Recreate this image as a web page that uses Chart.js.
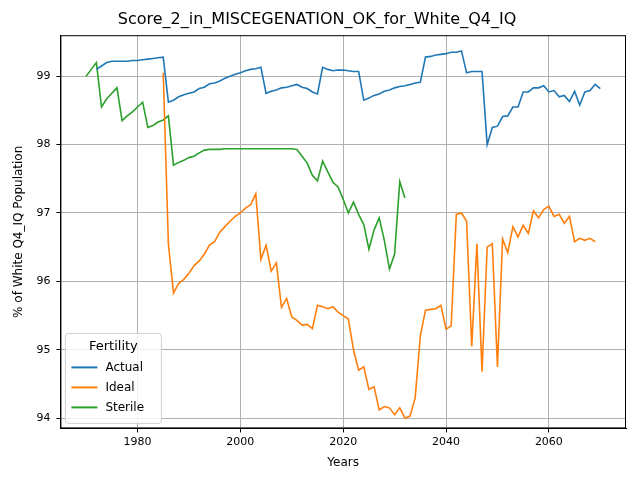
<!DOCTYPE html>
<html><head><meta charset="utf-8">
<script src="https://cdn.jsdelivr.net/npm/chart.js@4"></script>
<style>html,body{margin:0;background:#fff}#c{width:640px;height:480px}</style>
</head><body><div id="c"><canvas id="chart" width="640" height="480"></canvas></div>
<script>
var actualStart = 1972;
var actual = [99.1,99.15,99.2,99.22,99.22,99.22,99.22,99.23,99.23,99.24,99.25,99.26,99.27,99.28,
  98.62,98.65,98.7,98.73,98.75,98.77,98.82,98.84,98.89,98.9,98.93,98.97,99.0,99.03,99.05,99.08,99.1,99.11,99.13,
  98.75,98.78,98.8,98.83,98.84,98.86,98.88,98.84,98.82,98.77,98.74,
  99.13,99.1,99.08,99.09,99.09,99.08,99.07,99.07,
  98.65,98.68,98.72,98.74,98.78,98.8,98.83,98.85,98.86,98.88,98.9,98.91,
  99.28,99.29,99.31,99.32,99.33,99.35,99.35,99.37,
  99.05,99.07,99.07,99.07,
  98.0,98.25,98.27,98.41,98.42,98.55,98.55,98.77,98.77,98.83,98.83,98.86,98.77,98.79,98.7,98.72,98.63,98.78,98.58,98.77,98.79,98.88,98.82];
var idealStart = 1985;
var ideal = [99.05,96.55,95.83,95.97,96.03,96.12,96.23,96.3,96.4,96.53,96.58,96.72,96.8,96.88,96.95,97.0,97.07,97.12,97.28,
  96.32,96.53,96.15,96.27,95.62,95.75,95.48,95.43,95.36,95.37,95.31,95.65,95.63,95.6,95.63,95.55,95.5,95.45,
  95.0,94.7,94.75,94.42,94.46,94.12,94.17,94.15,94.05,94.15,94.0,94.03,94.3,95.2,95.58,95.59,95.6,95.65,95.3,95.35,
  96.98,97.0,96.88,95.05,96.55,94.68,96.5,96.55,94.75,96.62,96.42,96.8,96.65,96.82,96.7,97.03,96.93,97.05,97.1,
  96.95,96.98,96.85,96.95,96.58,96.63,96.6,96.63,96.58];
var sterileStart = 1970;
var sterile = [99.0,99.1,99.2,98.55,98.67,98.75,98.83,98.35,98.42,98.48,98.55,98.62,98.25,98.28,98.33,98.36,98.42,
  97.7,97.74,97.77,97.81,97.83,97.88,97.92,97.93,97.93,97.93,97.94,97.94,97.94,97.94,97.94,97.94,97.94,97.94,97.94,97.94,97.94,97.94,97.94,97.94,
  97.93,97.83,97.73,97.55,97.47,97.76,97.6,97.45,97.38,97.2,97.0,97.16,96.98,96.83,96.47,96.75,96.93,96.6,96.18,96.4,97.46,97.22];
var xTicks = [1980, 2000, 2020, 2040, 2060];
var yTicks = [94, 95, 96, 97, 98, 99];

function pts(start, vals) {
    return vals.map(function (v, i) { return { x: start + i, y: v }; });
}

var series = [
    { label: 'Actual', data: pts(actualStart, actual), color: '#1f77b4' },
    { label: 'Ideal', data: pts(idealStart, ideal), color: '#ff7f0e' },
    { label: 'Sterile', data: pts(sterileStart, sterile), color: '#2ca02c' }
];

var boxLegend = {
    id: 'boxLegend',
    afterDraw: function (chart) {
        var ctx = chart.ctx, a = chart.chartArea;
        ctx.save();
        // full frame
        ctx.strokeStyle = '#000';
        ctx.lineWidth = 1;
        ctx.strokeRect(a.left + 0.5, a.top + 0.5, a.right - a.left - 1, a.bottom - a.top - 1);
        var x = a.left + 5, y = a.bottom - 95, w = 96, h = 90;
        ctx.fillStyle = 'rgba(255,255,255,0.8)';
        ctx.strokeStyle = '#d0d0d0';
        ctx.beginPath();
        if (ctx.roundRect) { ctx.roundRect(x, y, w, h, 3); } else { ctx.rect(x, y, w, h); }
        ctx.fill(); ctx.stroke();
        ctx.fillStyle = '#000';
        ctx.font = '13px "DejaVu Sans"';
        ctx.textAlign = 'center';
        ctx.textBaseline = 'middle';
        ctx.fillText('Fertility', x + w / 2, y + 13);
        ctx.textAlign = 'left';
        ctx.font = '12px "DejaVu Sans"';
        series.forEach(function (s, i) {
            var ly = y + 34 + i * 20;
            ctx.strokeStyle = s.color;
            ctx.lineWidth = 2;
            ctx.beginPath(); ctx.moveTo(x + 6, ly); ctx.lineTo(x + 32, ly); ctx.stroke();
            ctx.fillStyle = '#000';
            ctx.fillText(s.label, x + 40, ly);
        });
        ctx.restore();
    }
};

new Chart(document.getElementById('chart'), {
    type: 'line',
    data: {
        datasets: series.map(function (s) {
            return { label: s.label, data: s.data, borderColor: s.color, backgroundColor: s.color,
                borderWidth: 1.6, pointRadius: 0, tension: 0 };
        })
    },
    options: {
        responsive: false,
        animation: false,
        layout: { padding: { left: 8, right: 14, top: 0, bottom: 6 } },
        plugins: {
            legend: { display: false },
            tooltip: { enabled: false },
            title: { display: true, text: 'Score_2_in_MISCEGENATION_OK_for_White_Q4_IQ', color: '#000',
                font: { family: 'DejaVu Sans', size: 16, weight: 'normal' }, padding: { top: 10, bottom: 6 } }
        },
        scales: {
            x: {
                type: 'linear', min: 1965, max: 2075,
                afterBuildTicks: function (ax) { ax.ticks = xTicks.map(function (v) { return { value: v }; }); },
                grid: { color: '#b0b0b0', drawTicks: true, tickLength: 4, tickColor: '#000' },
                border: { color: '#000' },
                ticks: { color: '#000', font: { family: 'DejaVu Sans', size: 11 }, maxRotation: 0,
                    callback: function (v) { return String(v); } },
                title: { display: true, text: 'Years', color: '#000', font: { family: 'DejaVu Sans', size: 12 } }
            },
            y: {
                min: 93.85, max: 99.6,
                afterBuildTicks: function (ax) { ax.ticks = yTicks.map(function (v) { return { value: v }; }); },
                grid: { color: '#b0b0b0', drawTicks: true, tickLength: 4, tickColor: '#000' },
                border: { color: '#000' },
                ticks: { color: '#000', font: { family: 'DejaVu Sans', size: 11 }, padding: 6 },
                title: { display: true, text: '% of White Q4_IQ Population', color: '#000', font: { family: 'DejaVu Sans', size: 12 } }
            }
        }
    },
    plugins: [boxLegend]
});
</script>
</body></html>
